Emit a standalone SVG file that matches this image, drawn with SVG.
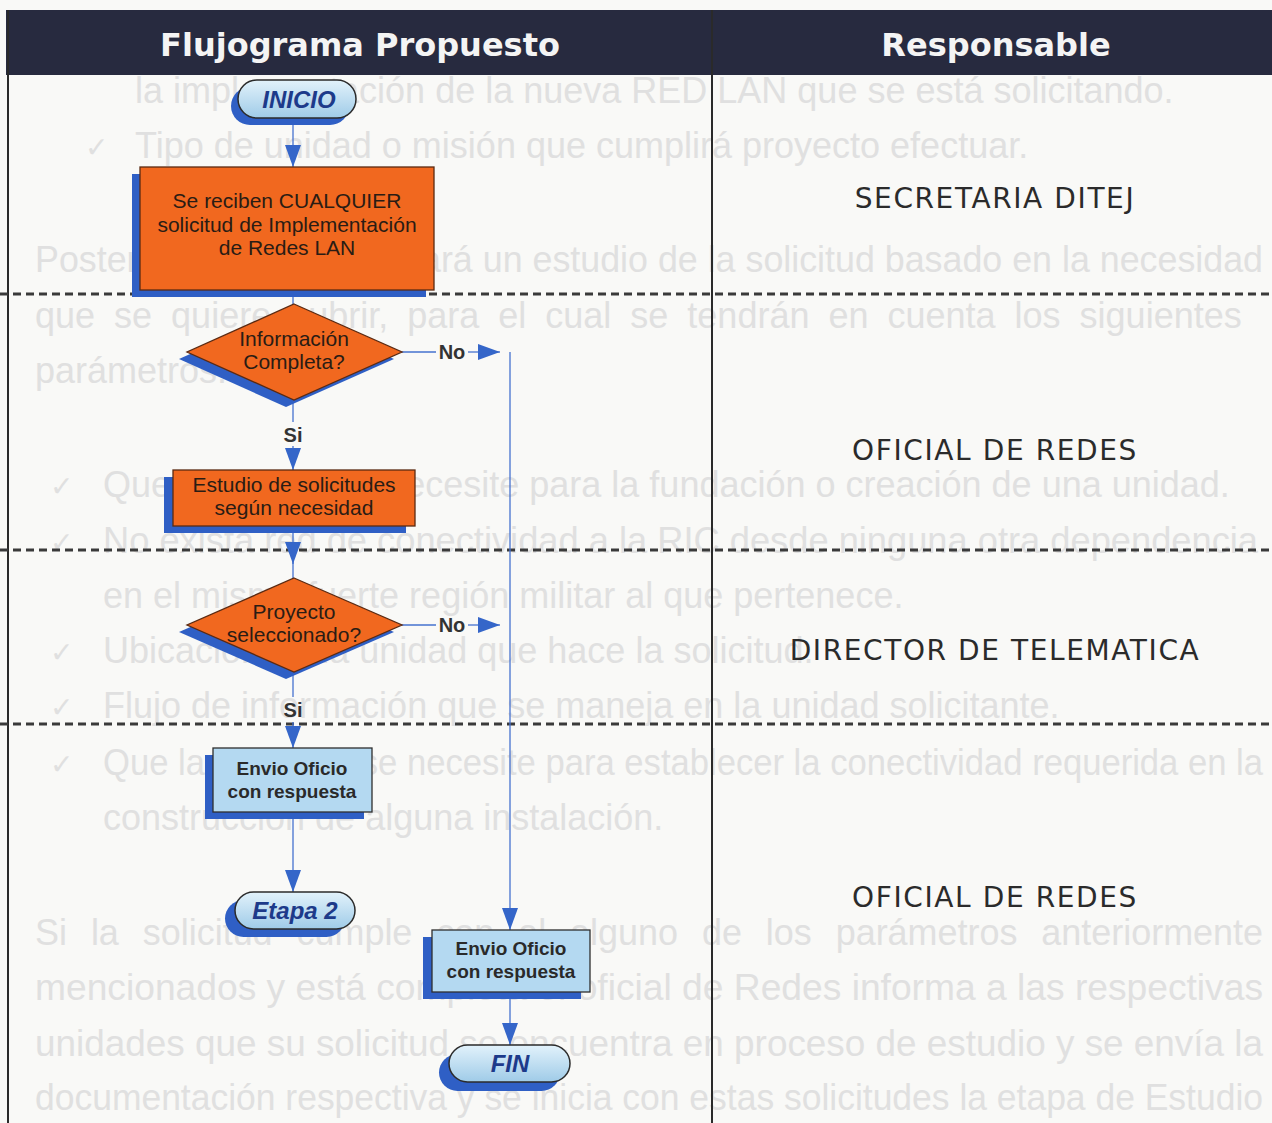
<svg xmlns="http://www.w3.org/2000/svg" width="1272" height="1123" viewBox="0 0 1272 1123">
  <style>
    .ghost { font-family: "Liberation Sans", Arial, sans-serif; font-size: 36px; fill: #e0e0e0; }
    .tick { font-family: "DejaVu Sans", sans-serif; font-size: 28px; fill: #e0e0e0; }
    .head { font-family: "DejaVu Sans", Verdana, sans-serif; font-size: 32px; font-weight: bold; fill: #f4f4f4; text-anchor: middle; }
    .role { font-family: "DejaVu Sans", Verdana, sans-serif; font-size: 28px; fill: #2b2b2b; text-anchor: middle; letter-spacing: 1.6px; }
    .rule { stroke: #2a2a2a; stroke-width: 2; }
    .dash { stroke: #3a3a3a; stroke-width: 3; stroke-dasharray: 8 5; }
    .shadow { fill: #2f5fc5; }
    .proc { fill: #f1681f; stroke: #5b2a12; stroke-width: 1.3; }
    .doc { fill: #b4d9f1; stroke: #2e2e2e; stroke-width: 1.3; }
    .pill { fill: url(#pillFill); stroke: #2b2b2b; stroke-width: 1.5; }
    .txt { font-family: "Liberation Sans", Arial, sans-serif; font-size: 21px; fill: #2a1c14; text-anchor: middle; }
    .txtb { font-family: "Liberation Sans", Arial, sans-serif; font-size: 19px; font-weight: bold; fill: #2a2a2a; text-anchor: middle; }
    .term { font-family: "Liberation Sans", Arial, sans-serif; font-size: 24px; font-weight: bold; font-style: italic; fill: #1d3a8a; text-anchor: middle; }
    .lbl { font-family: "Liberation Sans", Arial, sans-serif; font-size: 20px; font-weight: bold; fill: #333333; text-anchor: middle; }
    .flow { fill: none; stroke: #4572cf; stroke-width: 1.3; }
  </style>
  <defs>
    <linearGradient id="pillFill" x1="0" y1="0" x2="0" y2="1">
      <stop offset="0" stop-color="#e2f2fb"/>
      <stop offset="1" stop-color="#9fcbe8"/>
    </linearGradient>
    <marker id="arrow" markerUnits="userSpaceOnUse" viewBox="0 0 22 16" markerWidth="22" markerHeight="16" refX="22" refY="8" orient="auto">
      <path d="M0,0 L22,8 L0,16 z" fill="#3566c9"/>
    </marker>
  </defs>

  <!-- page -->
  <rect x="0" y="0" width="1272" height="1123" fill="#f9f9f7"/>

  <!-- faint show-through text of the page behind -->
  <g id="show-through">
    <text class="ghost" x="135" y="103">la implementación de la nueva RED LAN que se está solicitando.</text>
    <text class="tick" x="85" y="157">✓</text>
    <text class="ghost" x="135" y="158">Tipo de unidad o misión que cumplirá proyecto efectuar.</text>
    <text class="ghost" x="35" y="272" textLength="1228" lengthAdjust="spacingAndGlyphs">Posteriormente se realizará un estudio de la solicitud basado en la necesidad</text>
    <text class="ghost" x="35" y="328" word-spacing="9">que se quiere cubrir, para el cual se tendrán en cuenta los siguientes</text>
    <text class="ghost" x="35" y="383">parámetros:</text>
    <text class="tick" x="50" y="496">✓</text>
    <text class="ghost" x="103" y="497">Que la unidad se necesite para la fundación o creación de una unidad.</text>
    <text class="tick" x="50" y="552">✓</text>
    <text class="ghost" x="103" y="553" textLength="1155" lengthAdjust="spacingAndGlyphs">No exista red de conectividad a la RIC desde ninguna otra dependencia</text>
    <text class="ghost" x="103" y="608">en el mismo fuerte región militar al que pertenece.</text>
    <text class="tick" x="50" y="662">✓</text>
    <text class="ghost" x="103" y="663">Ubicación de la unidad que hace la solicitud.</text>
    <text class="tick" x="50" y="717">✓</text>
    <text class="ghost" x="103" y="718">Flujo de información que se maneja en la unidad solicitante.</text>
    <text class="tick" x="50" y="774">✓</text>
    <text class="ghost" x="103" y="775" textLength="1160" lengthAdjust="spacingAndGlyphs">Que la obra que se necesite para establecer la conectividad requerida en la</text>
    <text class="ghost" x="103" y="830">construcción de alguna instalación.</text>
    <text class="ghost" x="35" y="945" textLength="1228" lengthAdjust="spacingAndGlyphs" word-spacing="14">Si la solicitud cumple con al alguno de los parámetros anteriormente</text>
    <text class="ghost" x="35" y="1000" textLength="1228" lengthAdjust="spacingAndGlyphs">mencionados y está completa el oficial de Redes informa a las respectivas</text>
    <text class="ghost" x="35" y="1056" textLength="1228" lengthAdjust="spacingAndGlyphs">unidades que su solicitud se encuentra en proceso de estudio y se envía la</text>
    <text class="ghost" x="35" y="1110" textLength="1228" lengthAdjust="spacingAndGlyphs">documentación respectiva y se inicia con estas solicitudes la etapa de Estudio</text>
  </g>

  <!-- table frame -->
  <g id="table">
    <rect x="6" y="10" width="1266" height="65" fill="#272a3f"/>
    <text class="head" x="360" y="56">Flujograma Propuesto</text>
    <text class="head" x="996" y="56">Responsable</text>
    <line class="rule" x1="8" y1="10" x2="8" y2="1123"/>
    <line class="rule" x1="712" y1="10" x2="712" y2="1123"/>
    <line class="dash" x1="0" y1="294" x2="1272" y2="294"/>
    <line class="dash" x1="0" y1="550" x2="1272" y2="550"/>
    <line class="dash" x1="0" y1="724" x2="1272" y2="724"/>
  </g>

  <!-- responsible roles -->
  <g id="roles">
    <text class="role" x="995" y="208">SECRETARIA DITEJ</text>
    <text class="role" x="995" y="460">OFICIAL DE REDES</text>
    <text class="role" x="995" y="660">DIRECTOR DE TELEMATICA</text>
    <text class="role" x="995" y="907">OFICIAL DE REDES</text>
  </g>

  <!-- connectors -->
  <g id="connectors">
    <path class="flow" d="M293,118 V167" marker-end="url(#arrow)"/>
    <path class="flow" d="M293,290 V304"/>
    <path class="flow" d="M293,400 V422"/>
    <text class="lbl" x="293" y="442">Si</text>
    <path class="flow" d="M293,446 V470" marker-end="url(#arrow)"/>
    <path class="flow" d="M293,526 V564" marker-end="url(#arrow)"/>
    <path class="flow" d="M293,562 V579"/>
    <path class="flow" d="M293,672 V697"/>
    <text class="lbl" x="293" y="717">Si</text>
    <path class="flow" d="M293,722 V748" marker-end="url(#arrow)"/>
    <path class="flow" d="M293,812 V892" marker-end="url(#arrow)"/>
    <path class="flow" d="M402,352 H436"/>
    <text class="lbl" x="452" y="359">No</text>
    <path class="flow" d="M468,352 H500" marker-end="url(#arrow)"/>
    <path class="flow" d="M510,352 V930" marker-end="url(#arrow)"/>
    <path class="flow" d="M402,625 H436"/>
    <text class="lbl" x="452" y="632">No</text>
    <path class="flow" d="M468,625 H500" marker-end="url(#arrow)"/>
    <path class="flow" d="M510,992 V1045" marker-end="url(#arrow)"/>
  </g>

  <!-- nodes -->
  <g id="inicio">
    <rect class="shadow" x="231" y="87" width="118" height="38" rx="19"/>
    <rect class="pill" x="238" y="80" width="118" height="38" rx="19"/>
    <text class="term" x="299" y="108">INICIO</text>
  </g>

  <g id="recepcion">
    <rect class="shadow" x="132" y="174" width="294" height="123"/>
    <rect class="proc" x="140" y="167" width="294" height="123"/>
    <text class="txt" x="287" y="208">Se reciben CUALQUIER</text>
    <text class="txt" x="287" y="232">solicitud de Implementación</text>
    <text class="txt" x="287" y="255">de Redes LAN</text>
  </g>

  <g id="info-completa">
    <polygon class="shadow" points="286,311 394,359 286,407 179,359"/>
    <polygon class="proc" points="294,304 402,352 294,400 187,352"/>
    <text class="txt" x="294" y="346">Información</text>
    <text class="txt" x="294" y="369">Completa?</text>
  </g>

  <g id="estudio">
    <rect class="shadow" x="164" y="477" width="242" height="56"/>
    <rect class="proc" x="173" y="470" width="242" height="56"/>
    <text class="txt" x="294" y="492">Estudio de solicitudes</text>
    <text class="txt" x="294" y="515">según necesidad</text>
  </g>

  <g id="proyecto">
    <polygon class="shadow" points="286,585 394,632 286,679 179,632"/>
    <polygon class="proc" points="294,578 402,625 294,672 187,625"/>
    <text class="txt" x="294" y="619">Proyecto</text>
    <text class="txt" x="294" y="642">seleccionado?</text>
  </g>

  <g id="oficio-si">
    <rect class="shadow" x="205" y="755" width="159" height="64"/>
    <rect class="doc" x="213" y="748" width="159" height="64"/>
    <text class="txtb" x="292" y="775">Envio Oficio</text>
    <text class="txtb" x="292" y="798">con respuesta</text>
  </g>

  <g id="etapa2">
    <rect class="shadow" x="225" y="900" width="120" height="37" rx="18.5"/>
    <rect class="pill" x="235" y="892" width="120" height="37" rx="18.5"/>
    <text class="term" x="295" y="919">Etapa 2</text>
  </g>

  <g id="oficio-no">
    <rect class="shadow" x="423" y="937" width="158" height="62"/>
    <rect class="doc" x="432" y="930" width="158" height="62"/>
    <text class="txtb" x="511" y="955">Envio Oficio</text>
    <text class="txtb" x="511" y="978">con respuesta</text>
  </g>

  <g id="fin">
    <rect class="shadow" x="439" y="1054" width="121" height="37" rx="18.5"/>
    <rect class="pill" x="449" y="1045" width="121" height="37" rx="18.5"/>
    <text class="term" x="510" y="1072">FIN</text>
  </g>
</svg>
